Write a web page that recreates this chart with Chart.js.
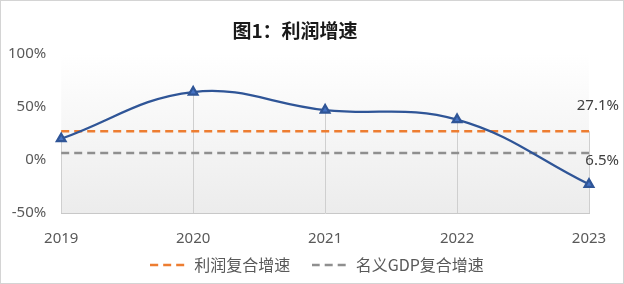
<!DOCTYPE html>
<html>
<head>
<meta charset="utf-8">
<script src="https://cdn.jsdelivr.net/npm/chart.js@4.4.0/dist/chart.umd.min.js"></script>
<style>
html, body { margin: 0; padding: 0; background: #fff; }
#wrap { position: relative; width: 622px; height: 282px; border: 1px solid #d4d4d4; }
</style>
</head>
<body>
<div id="wrap"><canvas id="first_chart"></canvas></div>
<script>
const years = ['2019', '2020', '2021', '2022', '2023'];
const profitGrowth = [20, 64, 47, 38, -23];
const profitCagr = [27.1, 27.1, 27.1, 27.1, 27.1];
const gdpCagr = [6.5, 6.5, 6.5, 6.5, 6.5];
const seriesNames = ['利润增速', '利润复合增速', '名义GDP复合增速'];
const endLabels = ['27.1%', '6.5%'];

const tickFont = {family: 'Noto Sans', size: 15};
const cjk = '"Noto Sans CJK SC", "Noto Sans", sans-serif';

// dashed line sample for the legend
function dashSample(color) {
    const c = document.createElement('canvas');
    c.width = 36;
    c.height = 4;
    const g = c.getContext('2d');
    if (color) {
        g.strokeStyle = color;
        g.lineWidth = 2.5;
        g.setLineDash([8, 5]);
        g.beginPath();
        g.moveTo(0, 2);
        g.lineTo(36, 2);
        g.stroke();
    }
    return c;
}

// plot area fill, light grey towards the bottom
const bgPlugin = {
    id: 'bg',
    beforeDraw(chart) {
        const {ctx, chartArea: a} = chart;
        const g = ctx.createLinearGradient(0, a.top, 0, a.bottom);
        g.addColorStop(0, '#ffffff');
        g.addColorStop(1, '#ececec');
        ctx.save();
        ctx.fillStyle = g;
        ctx.fillRect(a.left, a.top, a.right - a.left, a.bottom - a.top);
        ctx.restore();
    }
};

// drop lines from the highest point of each category down to the axis
const dropLines = {
    id: 'dropLines',
    beforeDatasetsDraw(chart) {
        const {ctx, scales: {x, y}} = chart;
        ctx.save();
        ctx.strokeStyle = '#cfcfcf';
        ctx.lineWidth = 1;
        years.forEach((yr, i) => {
            const top = Math.max(profitGrowth[i], profitCagr[i], gdpCagr[i]);
            const px = Math.round(x.getPixelForValue(i)) + 0.5;
            ctx.beginPath();
            ctx.moveTo(px, y.getPixelForValue(top));
            ctx.lineTo(px, y.bottom);
            ctx.stroke();
        });
        ctx.restore();
    }
};

// value labels at the end of the two dashed lines
const endLabelPlugin = {
    id: 'endLabels',
    afterDatasetsDraw(chart) {
        const {ctx} = chart;
        const offs = [-25, 8];
        ctx.save();
        ctx.font = '15px "Noto Sans"';
        ctx.fillStyle = '#404040';
        ctx.textAlign = 'right';
        ctx.textBaseline = 'middle';
        [1, 2].forEach((ds, k) => {
            const pts = chart.getDatasetMeta(ds).data;
            const p = pts[pts.length - 1];
            ctx.fillText(endLabels[k], 618, p.y + offs[k]);
        });
        ctx.restore();
    }
};

const chart = new Chart(document.getElementById('first_chart'), {
    type: 'line',
    data: {
        labels: years,
        datasets: [{
            label: seriesNames[0],
            data: profitGrowth,
            borderColor: '#2f5597',
            backgroundColor: '#4472c4',
            borderWidth: 2.25,
            tension: 0.4,
            pointStyle: 'triangle',
            pointRadius: 5,
            pointBorderColor: '#2f5597',
            pointBackgroundColor: '#4472c4',
            order: 0
        }, {
            label: seriesNames[1],
            data: profitCagr,
            borderColor: '#ed7d31',
            backgroundColor: '#ed7d31',
            borderWidth: 2.5,
            borderDash: [8, 5],
            pointRadius: 0,
            order: 1
        }, {
            label: seriesNames[2],
            data: gdpCagr,
            borderColor: '#8f8f8f',
            backgroundColor: '#8f8f8f',
            borderWidth: 2.5,
            borderDash: [8, 5],
            pointRadius: 0,
            order: 2
        }]
    },
    options: {
        responsive: true,
        maintainAspectRatio: false,
        animation: false,
        layout: {padding: {left: 0, right: 34, top: 4, bottom: 0}},
        scales: {
            x: {
                offset: false,
                grid: {display: false},
                border: {display: true, color: '#c8c8c8'},
                ticks: {color: '#595959', font: tickFont, padding: 9, maxRotation: 0}
            },
            y: {
                min: -50,
                max: 100,
                grid: {display: false},
                border: {display: false},
                ticks: {
                    stepSize: 50,
                    color: '#595959',
                    font: tickFont,
                    padding: 7,
                    callback: v => v + '%'
                }
            }
        },
        plugins: {
            title: {
                display: true,
                text: '图1：利润增速',
                color: '#1a1a1a',
                font: {family: cjk, size: 19, weight: 'bold'},
                padding: {top: 14, bottom: 12}
            },
            legend: {
                position: 'bottom',
                labels: {
                    usePointStyle: true,
                    pointStyleWidth: 36,
                    boxHeight: 4,
                    color: '#595959',
                    font: {family: cjk, size: 16},
                    padding: 0,
                    generateLabels: ch => {
                        const items = Chart.defaults.plugins.legend.labels.generateLabels(ch)
                            .filter(it => it.datasetIndex > 0);
                        items.forEach(it => {
                            const ds = ch.data.datasets[it.datasetIndex];
                            it.pointStyle = dashSample(ds.borderColor);
                            if (it.datasetIndex === 1) it.text = it.text + '      ';
                        });
                        // empty slot in front, keeps the entries right of centre
                        items.unshift({text: '', pointStyle: dashSample(null), fillStyle: 'rgba(0,0,0,0)',
                            strokeStyle: 'rgba(0,0,0,0)', lineWidth: 0, hidden: false});
                        return items;
                    }
                }
            },
            tooltip: {enabled: false}
        }
    },
    plugins: [bgPlugin, dropLines, endLabelPlugin]
});
</script>
</body>
</html>
